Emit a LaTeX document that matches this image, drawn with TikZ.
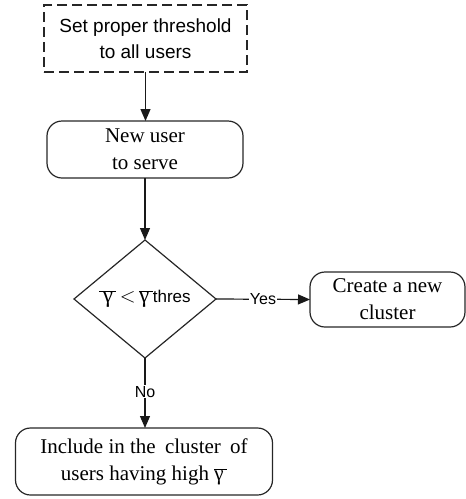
\documentclass[tikz,border=0pt]{standalone}
\usepackage{fontspec}
\setmainfont{Liberation Serif}
\newfontfamily\arial{Liberation Sans}
\usetikzlibrary{shapes.geometric,arrows.meta}
\begin{document}
\begin{tikzpicture}[x=1pt,y=-1pt,
  line width=1.2pt,
  every node/.style={inner sep=0pt, outer sep=0pt},
  serif/.style={font=\fontsize{21}{27}\selectfont, align=center},
  sanstext/.style={font=\arial\fontsize{19}{26}\selectfont, align=center},
  rbox/.style={draw=black!85, rounded corners=15pt, serif},
  dbox/.style={draw=black!85, dash pattern=on 10pt off 5pt, sanstext},
  decision/.style={draw=black!85, diamond, minimum width=142pt, minimum height=118pt, shape aspect=1.2, serif},
  edgelabel/.style={font=\arial\fontsize{16}{19}\selectfont, fill=white, inner sep=1pt},
  arr/.style={draw=black!90, -{Triangle[length=12pt,width=10pt]}}
]
\useasboundingbox (0,0) rectangle (466,499);

\node[dbox, minimum width=203pt, minimum height=67pt] (set) at (145.5,38.5) {Set proper threshold\\to all users};
\node[rbox, minimum width=196pt, minimum height=57pt] (new) at (145,149.5) {New user\\to serve};
\node[decision] (dec) at (145,299) {$\overline{\,\hbox{\fontsize{23}{27}\selectfont γ}\,}$\,$<$\,$\overline{\hbox{\fontsize{23}{27}\selectfont γ}\,}$\hbox{\arial\fontsize{17}{19}\selectfont thres}};
\node[rbox, minimum width=155pt, minimum height=55pt] (create) at (387.5,299.5) {Create a new\\cluster};
\node[rbox, minimum width=257pt, minimum height=67pt] (incl) at (144,461.5) {Include in the\hspace{4pt} cluster\hspace{4pt} of\\users having high $\overline{\hbox{γ}\,}$};

\draw[arr] (set.south) -- (set.south |- new.north);
\draw[arr] (new.south) -- (new.south |- dec.north);
\draw[arr] (dec.east) -- node[edgelabel] {Yes} (create.west);
\draw[arr] (dec.south) -- node[edgelabel, pos=0.48] {No} (dec.south |- incl.north);
\end{tikzpicture}
\end{document}
